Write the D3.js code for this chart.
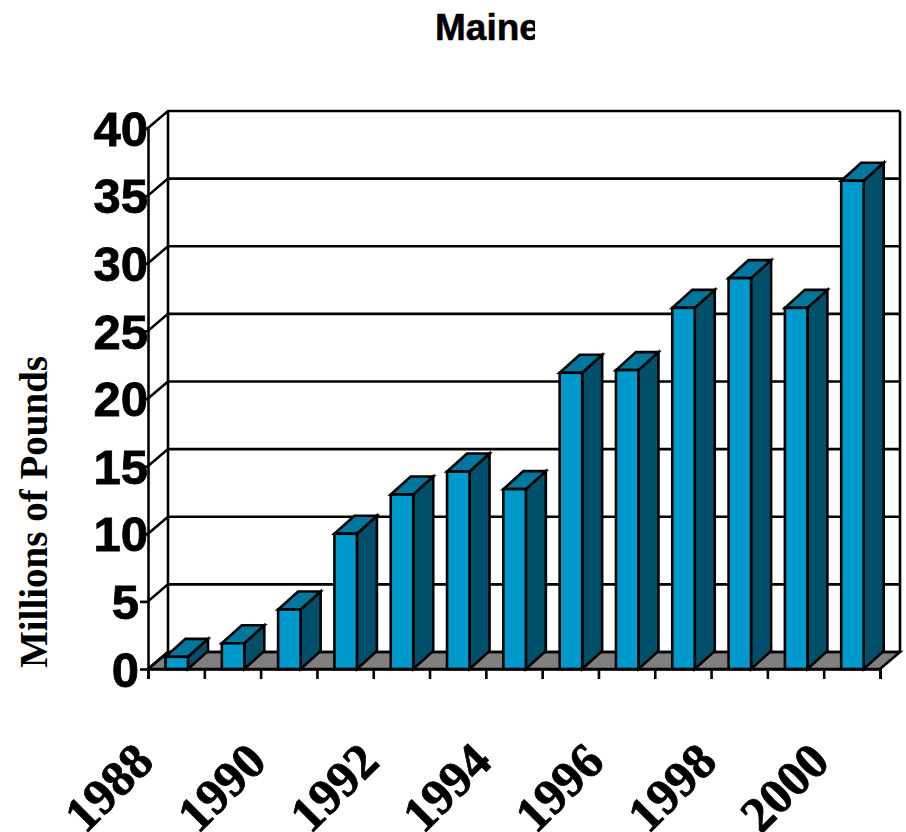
<!DOCTYPE html>
<html>
<head>
<meta charset="utf-8">
<script src="https://cdnjs.cloudflare.com/ajax/libs/d3/7.8.5/d3.min.js"></script>
<style>
  html, body { margin: 0; padding: 0; background: #fff; }
  svg { display: block; }
</style>
</head>
<body>
<div id="chart-area"></div>
<script>
// DATA
const years = [1988, 1989, 1990, 1991, 1992, 1993, 1994, 1995, 1996, 1997, 1998, 1999, 2000]
const pounds = [0.9, 1.9, 4.4, 10, 12.9, 14.6, 13.3, 21.9, 22.1, 26.7, 28.9, 26.7, 36.1]
const yearLabels = [1988, 1990, 1992, 1994, 1996, 1998, 2000]
const yTicks = [0, 5, 10, 15, 20, 25, 30, 35, 40]

const WIDTH = 906
const HEIGHT = 832
const DEPTH = { X: 20, Y: 17, BAR_Y: 18 }
const BAR = { OFFSET: 17.5, WIDTH: 22.5 }
const LEFT = 148, RIGHT = 880, BOTTOM = 669, TOP = 128
const LINE = 2.6

const svg = d3.select("#chart-area").append("svg")
  .attr("width", WIDTH)
  .attr("height", HEIGHT)

// SCALES
const x = d3.scaleBand().domain(years).range([LEFT, RIGHT])
const y = d3.scaleLinear().domain([0, 40]).range([BOTTOM, TOP])
const xEdge = d3.scaleLinear().domain([0, years.length]).range([LEFT, RIGHT])

// FLOOR
svg.append("polygon")
  .attr("points", [[LEFT, BOTTOM], [RIGHT, BOTTOM], [RIGHT + DEPTH.X, BOTTOM - DEPTH.Y], [LEFT + DEPTH.X, BOTTOM - DEPTH.Y]].join(" "))
  .attr("fill", "#808080")
  .attr("stroke", "#000")
  .attr("stroke-width", LINE)

// GRID on the back wall + diagonal on the side wall
const grid = svg.append("g").attr("fill", "none").attr("stroke", "#000").attr("stroke-width", LINE)
yTicks.forEach(v => {
  grid.append("path")
    .attr("d", `M${LEFT},${y(v)}L${LEFT + DEPTH.X},${y(v) - DEPTH.Y}H${RIGHT + DEPTH.X}`)
})
grid.append("path")
  .attr("d", `M${LEFT + DEPTH.X},${y(0) - DEPTH.Y}V${y(40) - DEPTH.Y}M${RIGHT + DEPTH.X},${y(0) - DEPTH.Y}V${y(40) - DEPTH.Y}`)

// AXES
const yAxisCall = d3.axisLeft(y).tickValues(yTicks).tickSize(0).tickPadding(0)
const yAxisGroup = svg.append("g")
  .attr("transform", `translate(${LEFT}, 0)`)
  .call(yAxisCall)
yAxisGroup.select(".domain").attr("stroke", "#000").attr("stroke-width", LINE)
yAxisGroup.selectAll("line")
  .attr("x2", -8).attr("stroke", "#000").attr("stroke-width", LINE)
yAxisGroup.selectAll("text")
  .attr("x", d => d < 10 ? -9 : 0)
  .attr("dy", "0.35em")
  .attr("font-family", "'Liberation Sans', Arial, sans-serif")
  .attr("font-weight", "bold")
  .attr("font-size", 49)
  .attr("fill", "#000")
  .attr("stroke", "#000")
  .attr("stroke-width", 0.8)
  .attr("text-anchor", "end")

const xAxisCall = d3.axisBottom(xEdge).tickValues(d3.range(years.length + 1)).tickSize(10).tickFormat("")
const xAxisGroup = svg.append("g")
  .attr("transform", `translate(0, ${BOTTOM})`)
  .call(xAxisCall)
xAxisGroup.select(".domain").attr("stroke", "#000").attr("stroke-width", LINE)
xAxisGroup.selectAll("line").attr("stroke", "#000").attr("stroke-width", LINE)

// BARS
const bars = svg.selectAll("g.bar").data(years.map((yr, i) => ({ yr, v: pounds[i] })))
  .enter().append("g")
  .attr("class", "bar")
  .attr("stroke", "#000")
  .attr("stroke-width", LINE)
  .attr("stroke-linejoin", "miter")

const bx = d => x(d.yr) + BAR.OFFSET

bars.append("polygon")
  .attr("fill", "#00506b")
  .attr("points", d => {
    const r = bx(d) + BAR.WIDTH
    return [[r, y(d.v)], [r + DEPTH.X, y(d.v) - DEPTH.BAR_Y], [r + DEPTH.X, y(0) - DEPTH.BAR_Y], [r, y(0)]].join(" ")
  })

bars.append("polygon")
  .attr("fill", "#00789e")
  .attr("points", d => {
    const l = bx(d), r = l + BAR.WIDTH
    return [[l, y(d.v)], [l + DEPTH.X, y(d.v) - DEPTH.BAR_Y], [r + DEPTH.X, y(d.v) - DEPTH.BAR_Y], [r, y(d.v)]].join(" ")
  })

bars.append("rect")
  .attr("fill", "#0099cc")
  .attr("x", bx)
  .attr("y", d => y(d.v))
  .attr("width", BAR.WIDTH)
  .attr("height", d => y(0) - y(d.v))

// YEAR LABELS
svg.selectAll("text.year").data(yearLabels)
  .enter().append("text")
  .attr("class", "year")
  .attr("text-anchor", "end")
  .attr("font-family", "'Liberation Serif', 'Times New Roman', serif")
  .attr("font-weight", "bold")
  .attr("font-size", 50)
  .attr("fill", "#000")
  .attr("stroke", "#000")
  .attr("stroke-width", 0.8)
  .attr("transform", d => `translate(${x(d) + 8}, 764) rotate(-45)`)
  .text(d => d)

// Y TITLE
svg.append("text")
  .attr("text-anchor", "middle")
  .attr("font-family", "'Liberation Serif', 'Times New Roman', serif")
  .attr("font-weight", "bold")
  .attr("font-size", 39)
  .attr("fill", "#000")
  .attr("transform", "translate(47, 512) rotate(-90)")
  .text("Millions of Pounds")

// TITLE, cut off on the right as in the source
svg.append("clipPath").attr("id", "title-clip")
  .append("rect").attr("x", 400).attr("y", 0).attr("width", 135).attr("height", 60)
svg.append("text")
  .attr("clip-path", "url(#title-clip)")
  .attr("x", 435)
  .attr("y", 40)
  .attr("font-family", "'Liberation Sans', Arial, sans-serif")
  .attr("font-weight", "bold")
  .attr("font-size", 37)
  .attr("fill", "#000")
  .attr("stroke", "#000")
  .attr("stroke-width", 0.5)
  .text("Maine")
</script>
</body>
</html>
